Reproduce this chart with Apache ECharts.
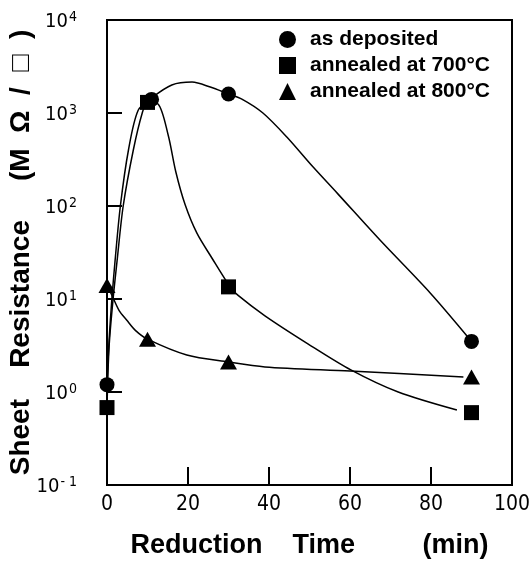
<!DOCTYPE html>
<html>
<head>
<meta charset="utf-8">
<script src="https://cdn.jsdelivr.net/npm/echarts@6/dist/echarts.min.js"></script>
<style>
html,body{margin:0;padding:0;background:#fff;}
#c{width:530px;height:561px;}
</style>
</head>
<body>
<div id="c"></div>
<script>
// ---- data ----
const xTicks = [0, 20, 40, 60, 80, 100];
const yExponents = [-1, 0, 1, 2, 3, 4];
const seriesNames = ['as deposited', 'annealed at 700°C', 'annealed at 800°C'];

// measured points (markers)
const depositedTime = [0, 11, 30, 90];
const depositedValue = [1.2, 1400, 1600, 3.5];
const anneal700Time = [0, 10, 30, 90];
const anneal700Value = [0.68, 1300, 13.5, 0.6];
const anneal800Time = [0, 10, 30, 90];
const anneal800Value = [14, 3.7, 2.1, 1.45];

// hand-drawn guide curves
const depositedCurveX = [0, 0.5, 1.2, 2, 3.3, 5.3, 7.7, 11, 16, 21, 25.5, 30, 33.3, 38.5, 44.4, 50.9, 57, 67.4, 79.8, 90];
const depositedCurveY = [1.2, 3.5, 10, 26, 100, 400, 1070, 1450, 2000, 2150, 1900, 1600, 1410, 1000, 552, 262, 135, 43, 11.6, 3.5];
const anneal700CurveX = [0, 0.5, 1.5, 2.5, 4, 6.5, 8.7, 10, 12.6, 15.1, 17, 19.3, 22.2, 25.9, 30.4, 32.3, 39, 49.6, 60.2, 71.9, 86.4];
const anneal700CurveY = [0.68, 3, 10, 26, 100, 400, 1000, 1300, 1250, 580, 232, 103, 51, 27.6, 13.5, 11, 6.6, 3.3, 1.73, 1.0, 0.64];
const anneal800CurveX = [0, 1.2, 3, 4.9, 7, 10, 19.7, 30, 39, 60, 88];
const anneal800CurveY = [14, 11, 7.5, 5.9, 4.6, 3.7, 2.5, 2.1, 1.86, 1.68, 1.45];

const symbols = ['circle', 'rect', 'triangle'];
const symbolSizes = [15, 15, [17, 15]];

function zip(xs, ys) { return xs.map((x, i) => [x, ys[i]]); }

const chart = echarts.init(document.getElementById('c'), null, {renderer: 'canvas'});

const markerSets = [zip(depositedTime, depositedValue), zip(anneal700Time, anneal700Value), zip(anneal800Time, anneal800Value)];
const curveSets = [zip(depositedCurveX, depositedCurveY), zip(anneal700CurveX, anneal700CurveY), zip(anneal800CurveX, anneal800CurveY)];

const series = [];
curveSets.forEach((d, i) => {
  series.push({
    type: 'line', name: 'curve' + i, data: d, showSymbol: false, smooth: 0.3,
    lineStyle: {color: '#000', width: 1.5}, silent: true, z: 2, clip: true
  });
});
markerSets.forEach((d, i) => {
  series.push({
    type: 'scatter', name: seriesNames[i], data: d, symbol: symbols[i], symbolSize: symbolSizes[i],
    itemStyle: {color: '#000', opacity: 1}, z: 5, clip: false
  });
});

const tickFont = 'Liberation Sans Narrow, DejaVu Sans Condensed, Liberation Sans, sans-serif';

chart.setOption({
  animation: false,
  backgroundColor: '#fff',
  grid: {left: 107, right: 18, top: 20, bottom: 76, show: true, borderColor: '#000', borderWidth: 2,
         containLabel: false, outerBoundsMode: 'none'},
  legend: {
    data: seriesNames.map((n, i) => ({name: n, icon: symbols[i]})),
    orient: 'vertical', left: 274, top: 24, itemWidth: 17, itemHeight: 17, itemGap: 5,
    textStyle: {color: '#000', fontSize: 21, fontWeight: 'bold', fontFamily: 'Liberation Sans, Arial, sans-serif', padding: [0, 0, 0, 9]},
    itemStyle: {color: '#000'}, selectedMode: false
  },
  xAxis: {
    type: 'value', min: xTicks[0], max: xTicks[xTicks.length - 1], interval: xTicks[1] - xTicks[0],
    axisLine: {show: true, lineStyle: {color: '#000', width: 2}},
    axisTick: {show: true, inside: true, length: 18, lineStyle: {color: '#000', width: 2}},
    splitLine: {show: false},
    axisLabel: {color: '#000', fontSize: 21, fontFamily: tickFont, margin: 9},
    name: 'Reduction    Time         (min)', nameLocation: 'middle', nameGap: 47,
    nameTextStyle: {color: '#000', fontSize: 27, fontWeight: 'bold', fontFamily: 'Liberation Sans, Arial, sans-serif'}
  },
  yAxis: {
    type: 'log', logBase: 10, min: Math.pow(10, yExponents[0]), max: Math.pow(10, yExponents[yExponents.length - 1]),
    axisLine: {show: true, lineStyle: {color: '#000', width: 2}},
    axisTick: {show: true, inside: true, length: 15, lineStyle: {color: '#000', width: 2}},
    splitLine: {show: false},
    axisLabel: {
      color: '#000', margin: 30,
      formatter: function (v) {
        const e = Math.round(Math.log10(v));
        const idx = yExponents.indexOf(e);
        const s = idx >= 0 ? String(yExponents[idx]) : String(e);
        return '{b|10}{s|' + s.replace('-', '- ') + '}';
      },
      rich: {
        b: {fontSize: 20, fontFamily: tickFont, color: '#000', verticalAlign: 'bottom', lineHeight: 24},
        s: {fontSize: 14, fontFamily: tickFont, color: '#000', verticalAlign: 'bottom', lineHeight: 24, padding: [0, 0, 8, 1]}
      }
    },
    name: 'Sheet    Resistance     (M  Ω  /  □  )', nameLocation: 'middle', nameGap: 72, nameMoveOverlap: false,
    nameTextStyle: {color: '#000', fontSize: 28, fontWeight: 'bold', fontFamily: 'Liberation Sans, Arial, sans-serif'}
  },
  series: series
});
</script>
</body>
</html>
